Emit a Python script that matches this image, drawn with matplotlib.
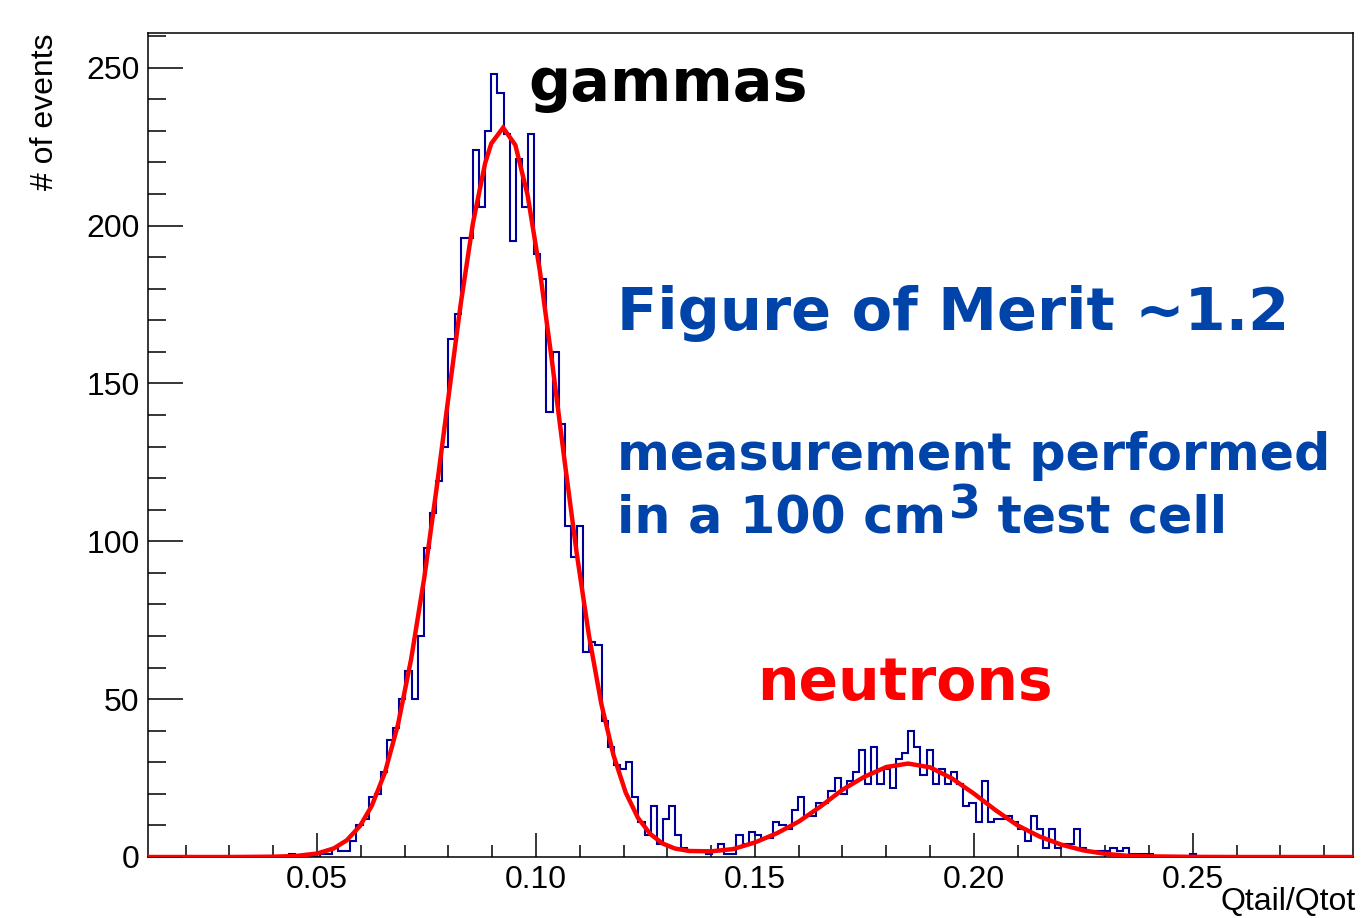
import numpy as np
import matplotlib
matplotlib.use('Agg')
import matplotlib.pyplot as plt
from matplotlib.ticker import MultipleLocator, FormatStrFormatter

# ── Donnees ───────────────────────────────────────────────────────────────────
BIN_LO, BIN_HI, N_BINS = 0.01, 0.29, 200

counts = [
    0, 0, 0, 0, 0, 0, 0, 0, 0, 0,
    0, 0, 0, 0, 0, 0, 0, 0, 0, 0,
    0, 0, 0, 0, 1, 0, 0, 0, 0, 1,
    1, 3, 2, 2, 5, 10, 12, 19, 20, 27,
    37, 41, 50, 59, 50, 70, 98, 109, 119, 130,
    164, 172, 196, 196, 224, 206, 230, 248, 242, 229,
    195, 221, 206, 229, 191, 183, 141, 160, 137, 105,
    95, 105, 65, 68, 67, 43, 35, 29, 28, 30,
    19, 11, 7, 16, 4, 12, 16, 7, 3, 2,
    2, 2, 1, 2, 4, 1, 1, 7, 4, 8,
    7, 6, 6, 11, 10, 9, 15, 19, 13, 13,
    17, 17, 21, 25, 20, 24, 27, 34, 23, 35,
    23, 28, 22, 31, 33, 40, 35, 26, 34, 23,
    28, 23, 27, 23, 16, 17, 11, 24, 11, 12,
    12, 13, 11, 9, 5, 13, 9, 3, 9, 3,
    4, 4, 9, 3, 2, 2, 2, 2, 3, 2,
    3, 1, 1, 1, 1, 0, 0, 0, 0, 0,
    0, 1, 0, 0, 0, 0, 0, 0, 0, 0,
    0, 0, 0, 0, 0, 0, 0, 0, 0, 0,
    0, 0, 0, 0, 0, 0, 0, 0, 0, 0,
]

# courbe d'ajustement (points lus)
fit_x = [0.0114, 0.03, 0.04, 0.045, 0.05, 0.0538, 0.0568, 0.0598, 0.0625, 0.0655,
         0.0685, 0.0715, 0.0745, 0.0773, 0.0800, 0.0828, 0.0856, 0.0884, 0.0898, 0.0925,
         0.0953, 0.0981, 0.1009, 0.1037, 0.1065, 0.1093, 0.1121, 0.1149, 0.1177, 0.1205,
         0.1233, 0.1261, 0.1289, 0.1317, 0.135, 0.14, 0.145, 0.15, 0.155, 0.16,
         0.165, 0.17, 0.175, 0.18, 0.185, 0.19, 0.195, 0.20, 0.205, 0.21,
         0.215, 0.22, 0.225, 0.23, 0.235, 0.24, 0.25, 0.26, 0.27, 0.2866]
fit_y = [0.0, 0.0, 0.1, 0.3, 1.1, 2.7, 5.3, 9.8, 16.2, 26.7,
         42.0, 62.7, 88.5, 116.7, 145.5, 175.0, 200.7, 219.8, 226.0, 231.0,
         225.5, 209.6, 185.6, 156.6, 125.9, 96.3, 70.2, 48.7, 32.3, 20.4,
         12.4, 7.3, 4.3, 2.7, 1.9, 1.8, 2.5, 4.6, 7.5, 11.2,
         16.0, 21.3, 25.4, 28.5, 29.6, 28.4, 24.9, 20.1, 14.8, 10.0,
         6.5, 3.9, 2.1, 1.0, 0.4, 0.2, 0.05, 0.0, 0.0, 0.0]

X_MIN, X_MAX = 0.0114, 0.2866
Y_MAX = 261

edges = np.linspace(BIN_LO, BIN_HI, N_BINS + 1)

# ── Figure ────────────────────────────────────────────────────────────────────
W, H = 1361, 918
fig = plt.figure(figsize=(W / 100, H / 100), dpi=100)
ax = fig.add_axes([148 / W, 1 - 857 / H, (1353 - 148) / W, (857 - 33) / H])

ax.stairs(counts, edges, baseline=0, fill=False, color='#000099', linewidth=1.5, zorder=2)
ax.plot(fit_x, fit_y, color='red', linewidth=3.2, zorder=3, solid_joinstyle='miter')

ax.set_xlim(X_MIN, X_MAX)
ax.set_ylim(0, Y_MAX)

axis_font = 'Liberation Sans'
ax.xaxis.set_major_locator(MultipleLocator(0.05))
ax.xaxis.set_minor_locator(MultipleLocator(0.01))
ax.xaxis.set_major_formatter(FormatStrFormatter('%.2f'))
ax.yaxis.set_major_locator(MultipleLocator(50))
ax.yaxis.set_minor_locator(MultipleLocator(10))
ax.tick_params(axis='x', which='major', direction='in', length=17, width=1.1, pad=6)
ax.tick_params(axis='x', which='minor', direction='in', length=8.5, width=1.1)
ax.tick_params(axis='y', which='major', direction='in', length=25, width=1.1, pad=6)
ax.tick_params(axis='y', which='minor', direction='in', length=13, width=1.1)
for lab in ax.get_xticklabels() + ax.get_yticklabels():
    lab.set_fontfamily(axis_font)
    lab.set_fontsize(23)
for sp in ax.spines.values():
    sp.set_linewidth(1.1)

fig.text(45 / W, 1 - 33 / H, '# of events', rotation=90, ha='center', va='top',
         fontsize=23, family=axis_font)
fig.text(1356 / W, 1 - 917 / H, 'Qtail/Qtot', ha='right', va='bottom',
         fontsize=23, family=axis_font)

# ── Annotations ───────────────────────────────────────────────────────────────
blue = '#0044aa'
bold = dict(fontweight='bold', family='DejaVu Sans')
ax.text(0.0982, 239.6, 'gammas', color='black', fontsize=42.5,
        va='baseline', ha='left', **bold)
ax.text(0.1186, 166.8, 'Figure of Merit ~1.2', color=blue, fontsize=42.5,
        va='baseline', ha='left', **bold)
ax.text(0.1186, 122.5, 'measurement performed', color=blue, fontsize=36.5,
        va='baseline', ha='left', **bold)
t1 = ax.text(0.1186, 102.8, 'in a 100 cm', color=blue, fontsize=36.5,
             va='baseline', ha='left', **bold)
t2 = ax.annotate('3', xy=(1, 0), xycoords=t1, xytext=(1.5, 11),
                 textcoords='offset points', color=blue, fontsize=33,
                 va='bottom', ha='left', **bold)
ax.annotate(' test cell', xy=(1, 0), xycoords=t2, xytext=(0, -11),
            textcoords='offset points', color=blue, fontsize=36.5,
            va='bottom', ha='left', **bold)
ax.text(0.1506, 49.7, 'neutrons', color='red', fontsize=42,
        va='baseline', ha='left', **bold)

fig.savefig('out.png', dpi=100)
